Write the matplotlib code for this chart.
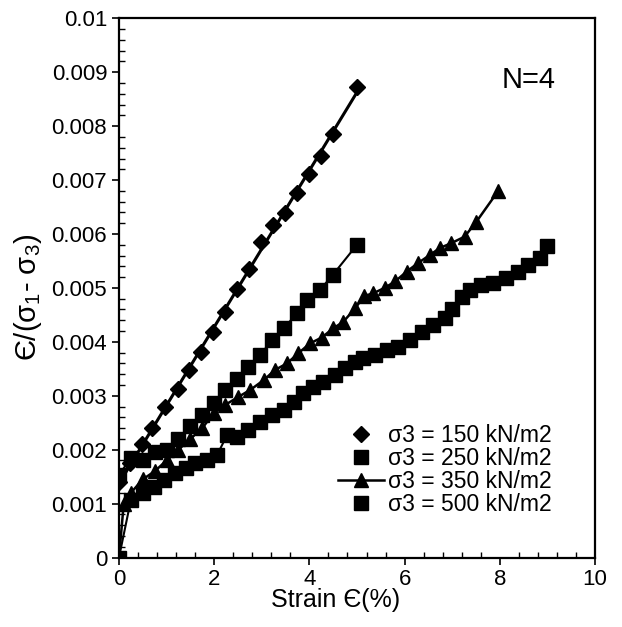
import numpy as np
import matplotlib
matplotlib.use("Agg")
import matplotlib.pyplot as plt
from matplotlib.ticker import MultipleLocator, FuncFormatter

plt.rcParams['font.family'] = ['Liberation Sans', 'DejaVu Sans']
plt.rcParams['mathtext.fontset'] = 'custom'
plt.rcParams['mathtext.rm'] = 'Liberation Sans'
plt.rcParams['mathtext.it'] = 'Liberation Sans'

# strain (%) and strain / deviator stress (x 1e-3)
x150 = [0.0, 0.24, 0.48, 0.70, 0.97, 1.23, 1.47, 1.72, 1.98, 2.23, 2.47, 2.74,
        2.98, 3.23, 3.49, 3.73, 3.99, 4.24, 4.49, 5.00]
y150 = [1.40, 1.75, 2.10, 2.41, 2.79, 3.13, 3.48, 3.81, 4.18, 4.55, 4.98, 5.36,
        5.85, 6.16, 6.39, 6.76, 7.12, 7.44, 7.86, 8.72]

x250 = [0.0, 0.25, 0.5, 0.75, 1.0, 1.25, 1.5, 1.74, 1.99, 2.23, 2.48, 2.72,
        2.97, 3.21, 3.46, 3.74, 3.95, 4.22, 4.49, 5.0]
y250 = [1.53, 1.85, 1.80, 1.95, 2.00, 2.20, 2.43, 2.64, 2.86, 3.11, 3.32, 3.54,
        3.76, 4.03, 4.25, 4.53, 4.78, 4.96, 5.24, 5.80]

x350 = [0.0, 0.1, 0.25, 0.5, 0.75, 1.0, 1.25, 1.5, 1.75, 1.99, 2.23, 2.51, 2.76,
        3.04, 3.28, 3.53, 3.77, 4.01, 4.26, 4.5, 4.71, 4.96, 5.15, 5.34, 5.58,
        5.8, 6.04, 6.28, 6.53, 6.74, 6.98, 7.26, 7.51, 7.96]
y350 = [0.0, 1.00, 1.20, 1.45, 1.60, 1.80, 2.00, 2.20, 2.40, 2.68, 2.83, 2.98,
        3.11, 3.29, 3.48, 3.60, 3.79, 3.97, 4.08, 4.25, 4.37, 4.62, 4.85, 4.90,
        5.00, 5.12, 5.30, 5.46, 5.61, 5.74, 5.83, 5.95, 6.23, 6.79]

x500 = [0.0, 0.25, 0.5, 0.73, 0.94, 1.18, 1.4, 1.6, 1.85, 2.06, 2.27, 2.48, 2.72,
        2.97, 3.21, 3.46, 3.67, 3.87, 4.08, 4.29, 4.54, 4.75, 4.95, 5.13, 5.38,
        5.62, 5.87, 6.11, 6.36, 6.6, 6.84, 7.0, 7.2, 7.37, 7.61, 7.86, 8.14,
        8.38, 8.59, 8.84, 9.0]
y500 = [0.0, 1.07, 1.19, 1.31, 1.44, 1.56, 1.66, 1.75, 1.81, 1.90, 2.27, 2.24,
        2.37, 2.52, 2.64, 2.74, 2.89, 3.05, 3.17, 3.26, 3.39, 3.51, 3.62, 3.70,
        3.76, 3.85, 3.91, 4.03, 4.19, 4.31, 4.44, 4.60, 4.84, 4.97, 5.06, 5.09,
        5.18, 5.30, 5.43, 5.55, 5.77]

labels = ['σ3 = 150 kN/m2', 'σ3 = 250 kN/m2', 'σ3 = 350 kN/m2', 'σ3 = 500 kN/m2']


def scaled(v):
    return np.array(v) / 1000.0


fig = plt.figure(figsize=(6.22, 6.27), dpi=100)
ax = fig.add_axes([0.1913, 0.1108, 0.7653, 0.86])

# 150: markers with a linear trend line
ax.plot(x150, scaled(y150), 'D', color='black', ms=8, label=labels[0])
fit = np.polyfit(x150[1:], y150[1:], 1)
xs = np.array([x150[1] - 0.15, x150[-1]])
ax.plot(xs, scaled(np.polyval(fit, xs)), '-', color='black', lw=2.2)

# 250
ax.plot(x250, scaled(y250), '-', color='black', lw=1.5)
ax.plot(x250, scaled(y250), 's', color='black', ms=10, label=labels[1])

# 350
ax.plot(x350, scaled(y350), '-^', color='black', lw=1.8, ms=10, label=labels[2])

# 500
ax.plot(x500, scaled(y500), '-', color='black', lw=1.5)
ax.plot(x500, scaled(y500), 's', color='black', ms=10, label=labels[3])

ax.set_xlim(0, 10)
ax.set_ylim(0, 0.01)
ax.xaxis.set_major_locator(MultipleLocator(2))
ax.xaxis.set_minor_locator(MultipleLocator(0.4))
ax.yaxis.set_major_locator(MultipleLocator(0.001))
ax.yaxis.set_minor_locator(MultipleLocator(0.0002))
ax.yaxis.set_major_formatter(FuncFormatter(lambda v, p: f'{round(v, 4):g}'))

ax.tick_params(which='major', direction='out', length=5, width=1.2, labelsize=16)
ax.tick_params(which='minor', direction='in', length=4, width=1.0)
ax.tick_params(axis='x', pad=3)
for s in ax.spines.values():
    s.set_linewidth(1.6)

ax.set_xlabel('Strain Є(%)', fontsize=18)
ax.xaxis.set_label_coords(0.454, -0.057)
ax.set_ylabel('Є/(σ$_1$- σ$_3$)', fontsize=21)
ax.yaxis.set_label_coords(-0.157, 0.483)

ax.text(0.86, 0.885, 'N=4', transform=ax.transAxes, fontsize=21, ha='center', va='center')

ax.legend(loc='center', bbox_to_anchor=(0.685, 0.162), frameon=False, fontsize=16.5,
          handlelength=2.0, handletextpad=0.2, labelspacing=0.0, borderpad=0)

fig.savefig('out.png', dpi=100)
